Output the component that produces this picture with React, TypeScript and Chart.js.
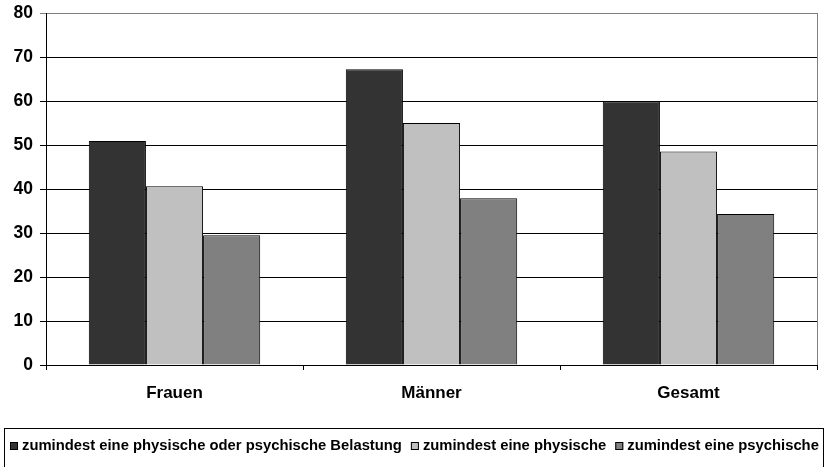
import React, { useEffect, useRef } from "react";
import { Chart, registerables } from "chart.js";

Chart.register(...registerables);

const categories = ["Frauen", "Männer", "Gesamt"];
const seriesNames = [
  "zumindest eine physische oder psychische Belastung",
  "zumindest eine physische",
  "zumindest eine psychische",
];
const belastungAny = [50.9, 67.2, 59.9];
const belastungPhys = [40.6, 55.0, 48.5];
const belastungPsych = [29.5, 37.9, 34.3];
const yTicks = [0, 10, 20, 30, 40, 50, 60, 70, 80];
const colors = ["#333333", "#C0C0C0", "#808080"];

const FONT = "'Liberation Sans', Arial, sans-serif";

const framePlugin = {
  id: "frame",
  afterDraw(chart: any) {
    const { ctx, chartArea } = chart;
    ctx.save();
    ctx.strokeStyle = "#808080";
    ctx.lineWidth = 1;
    ctx.beginPath();
    ctx.moveTo(Math.round(chartArea.right) + 0.5, chartArea.top);
    ctx.lineTo(Math.round(chartArea.right) + 0.5, chartArea.bottom);
    ctx.stroke();

    ctx.strokeStyle = "#000000";
    ctx.strokeRect(4.5, 428.5, 819, 60);
    ctx.font = `bold 14.8px ${FONT}`;
    ctx.textBaseline = "middle";
    let x = 10;
    const y = 446;
    seriesNames.forEach((name, i) => {
      ctx.fillStyle = colors[i];
      ctx.fillRect(x, y - 4, 8, 8);
      ctx.strokeStyle = "#000";
      ctx.strokeRect(x + 0.5, y - 3.5, 7, 7);
      ctx.fillStyle = "#000";
      ctx.fillText(name, x + 12, y);
      x += 12 + ctx.measureText(name).width + 9;
    });
    ctx.restore();
  },
};

export default function App() {
  const ref = useRef<HTMLCanvasElement | null>(null);
  useEffect(() => {
    if (!ref.current) return;
    const series = [belastungAny, belastungPhys, belastungPsych];
    const chart = new Chart(ref.current, {
      type: "bar",
      data: {
        labels: categories,
        datasets: series.map((d, i) => ({
          label: seriesNames[i],
          data: d,
          backgroundColor: colors[i],
          borderColor: "#000000",
          borderWidth: 1,
          barPercentage: 1,
          categoryPercentage: 0.667,
        })),
      },
      options: {
        animation: false,
        responsive: false,
        devicePixelRatio: 1,
        layout: { padding: { top: 13, right: 10, left: 0, bottom: 0 } },
        plugins: { legend: { display: false }, tooltip: { enabled: false } },
        scales: {
          x: {
            grid: {
              offset: true,
              drawOnChartArea: false,
              drawTicks: true,
              tickLength: 5,
              color: "#000",
            },
            border: { color: "#000", width: 1 },
            ticks: {
              color: "#000",
              font: { family: FONT, size: 17, weight: "bold" },
              padding: 13,
            },
            afterFit: (s: any) => {
              s.height = 102;
            },
          },
          y: {
            min: 0,
            max: 80,
            afterBuildTicks: (s: any) => {
              s.ticks = yTicks.map((v) => ({ value: v }));
            },
            grid: {
              color: (c: any) => (c.tick && c.tick.value === 80 ? "#808080" : "#000"),
              tickLength: 6,
              drawTicks: true,
            },
            border: { color: "#000", width: 1 },
            ticks: {
              color: "#000",
              font: { family: FONT, size: 17.5, weight: "bold", lineHeight: 0.8 },
              padding: 7,
            },
            afterFit: (s: any) => {
              s.width = 46;
              s.paddingTop = 0;
              s.paddingBottom = 0;
            },
          },
        },
      },
      plugins: [framePlugin],
    } as any);
    return () => chart.destroy();
  }, []);
  return (
    <div style={{ position: "fixed", left: 0, top: 0, width: 827, height: 467, background: "#fff" }}>
      <canvas ref={ref} width={827} height={467} style={{ width: 827, height: 467 }} />
    </div>
  );
}
